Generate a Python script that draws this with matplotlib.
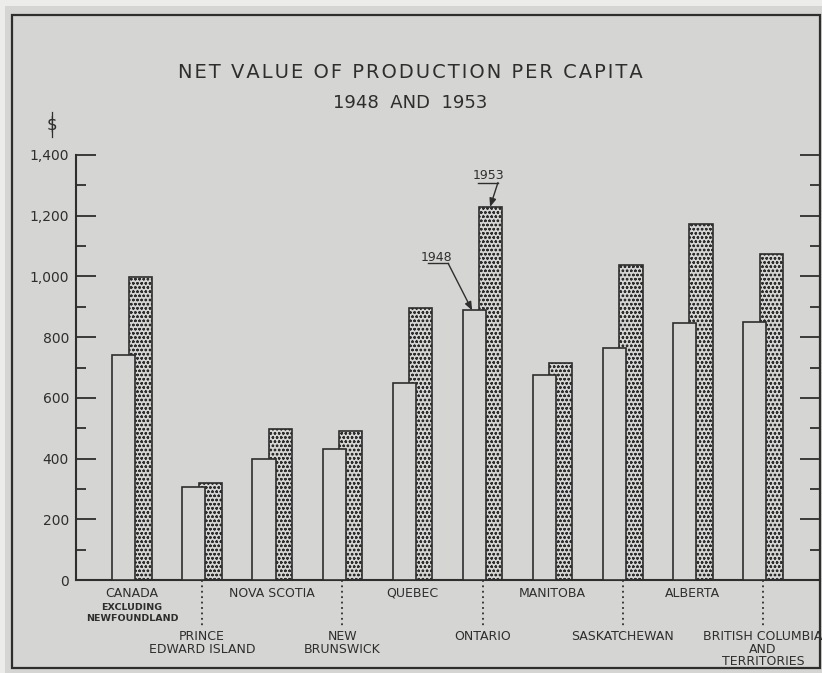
import matplotlib.pyplot as plt
from matplotlib.patches import Rectangle
from matplotlib.ticker import MultipleLocator, FuncFormatter
import matplotlib.transforms as mtransforms

# data ($ per capita)
regions = ["CANADA", "PRINCE\nEDWARD ISLAND", "NOVA SCOTIA", "NEW\nBRUNSWICK", "QUEBEC",
           "ONTARIO", "MANITOBA", "SASKATCHEWAN", "ALBERTA",
           "BRITISH COLUMBIA\nAND\nTERRITORIES"]
val_1948 = [741, 306, 397, 433, 650, 888, 676, 763, 845, 851]
val_1953 = [998, 319, 498, 492, 895, 1229, 715, 1037, 1174, 1073]

bg = "#d5d5d3"
ink = "#2e2e2e"
plt.rcParams["hatch.linewidth"] = 0.65
plt.rcParams["hatch.color"] = ink

fig = plt.figure(figsize=(8.22, 6.73), dpi=100, facecolor=bg)
W, H = 822, 673

# outer page strip + frame
fig.patches.append(Rectangle((0, 0), 5 / W, 1, transform=fig.transFigure, facecolor="#ececea",
                             edgecolor="none", zorder=0))
fig.patches.append(Rectangle((0, 1 - 6 / H), 1, 6 / H, transform=fig.transFigure,
                             facecolor="#ececea", edgecolor="none", zorder=0))
fig.patches.append(Rectangle((12 / W, 5 / H), (820 - 12) / W, (668 - 15) / H,
                             transform=fig.transFigure, fill=False, edgecolor=ink,
                             linewidth=1.6, zorder=1))

ax = fig.add_axes([76 / W, (H - 580) / H, (820 - 76) / W, (580 - 155) / H])
ax.set_facecolor("none")

x = list(range(len(regions)))
w = 0.33
off = 0.118
ax.bar([i + off for i in x], val_1953, width=w, facecolor=bg, edgecolor=ink,
       hatch="oooo", linewidth=1.2, zorder=2)
ax.bar([i - off for i in x], val_1948, width=w, facecolor=bg, edgecolor=ink,
       linewidth=1.2, zorder=3)

ax.set_xlim(-0.80, 9.815)
ax.set_ylim(0, 1400)

for s in ["top", "right"]:
    ax.spines[s].set_visible(False)
ax.spines["left"].set_linewidth(1.5)
ax.spines["bottom"].set_linewidth(1.5)
ax.spines["left"].set_color(ink)
ax.spines["bottom"].set_color(ink)

ax.yaxis.set_major_locator(MultipleLocator(200))
ax.yaxis.set_minor_locator(MultipleLocator(100))
ax.yaxis.set_major_formatter(FuncFormatter(lambda v, p: f"{int(v):,}"))
ax.tick_params(axis="y", which="both", direction="in", left=True, right=True,
               colors=ink, width=1.3, labelsize=10, pad=5)
ax.tick_params(axis="y", which="major", length=14.5)
ax.tick_params(axis="y", which="minor", length=7.5)
ax.set_xticks([])

# category labels below the axis
tb = mtransforms.blended_transform_factory(ax.transData, ax.transAxes)
for i, name in enumerate(regions):
    if i % 2 == 0:
        ax.text(i, -0.031, name, transform=tb, ha="center", va="center",
                fontsize=9, color=ink)
    else:
        ax.plot([i, i], [0, -0.112], transform=tb, linestyle=(0, (1, 2)),
                color=ink, linewidth=1.3, clip_on=False)
        ax.text(i, -0.118, name, transform=tb, ha="center", va="top",
                fontsize=9, color=ink, linespacing=0.95)
ax.text(0, -0.055, "EXCLUDING\nNEWFOUNDLAND", transform=tb, ha="center", va="top",
        fontsize=6.8, color=ink, fontweight="bold", linespacing=1.25)

# year call-outs on Ontario
for txt, tx, ty, u0, u1, uy, tgt in [
        ("1948", 4.35, 1063, 4.22, 4.51, 1043, (5 - off - 0.03, val_1948[5])),
        ("1953", 5.09, 1332, 4.94, 5.22, 1309, (5 + off - 0.01, val_1953[5]))]:
    ax.text(tx, ty, txt, ha="center", va="center", fontsize=9, color=ink)
    ax.plot([u0, u1], [uy, uy], color=ink, linewidth=1.0, clip_on=False)
    ax.annotate("", xy=tgt, xytext=(u1, uy),
                arrowprops=dict(arrowstyle="-|>,head_length=0.5,head_width=0.2",
                                color=ink, linewidth=1.0, shrinkA=0, shrinkB=0))

title = "NET VALUE OF PRODUCTION PER CAPITA"
fig.text(0.499, 1 - 72 / H, "\u200a".join(title), ha="center",
         va="center", fontsize=14, color=ink)
fig.text(0.499, 1 - 103 / H, "1948  AND  1953", ha="center", va="center",
         fontsize=13, color=ink)
fig.text(52 / W, 1 - 125 / H, "$", ha="center", va="center", fontsize=12, color=ink)
fig.lines.append(plt.Line2D([52 / W, 52 / W], [1 - 112 / H, 1 - 137 / H],
                            transform=fig.transFigure, color=ink, linewidth=0.9))

fig.savefig("out.png", dpi=100, facecolor=bg)
